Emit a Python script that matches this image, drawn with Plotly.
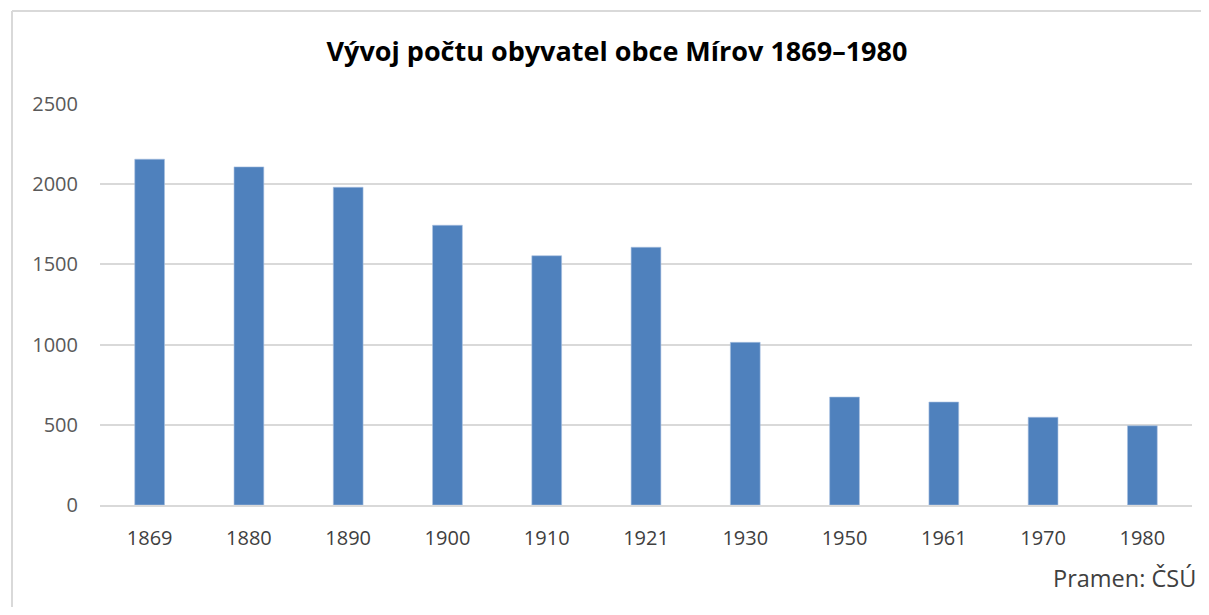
import plotly.graph_objects as go

years = ["1869", "1880", "1890", "1900", "1910", "1921", "1930", "1950", "1961", "1970", "1980"]
population = [2156, 2108, 1981, 1744, 1554, 1607, 1014, 673, 642, 547, 494]
y_ticks = [0, 500, 1000, 1500, 2000, 2500]

title_text = "Vývoj počtu obyvatel obce Mírov 1869–1980"
source_text = "Pramen: ČSÚ"

# The page body has an 8px default margin, so the figure is placed at (8, 8).
OFF = 8
W, H = 1209 - OFF, 615 - 2 * OFF
# plot area in page pixels
L, R, T, B = 100 - OFF, 1192 - OFF, 104 - OFF, 505 - OFF

FONT = "'Open Sans', Lato, sans-serif"

fig = go.Figure(go.Bar(
    x=years, y=population,
    marker=dict(color="#4F81BD", line=dict(color="#A9C1E0", width=0.6)),
    hoverinfo="x+y",
))


def px_x(p):
    return (p - OFF - L) / (R - L)


def px_y(p):
    return (B - (p - OFF)) / (B - T)


fig.update_layout(
    width=W, height=H,
    margin=dict(l=L, r=W - R, t=T, b=H - B, pad=0),
    paper_bgcolor="white", plot_bgcolor="white",
    bargap=0.70,
    showlegend=False,
    font=dict(family=FONT, size=20, color="#595959"),
    title=dict(text="<b>" + title_text + "</b>", x=(617 - OFF) / W, xanchor="center",
               y=1 - (52 - OFF) / H, yanchor="middle", yref="container",
               font=dict(family=FONT, size=27, color="#000000")),
    xaxis=dict(type="category", showgrid=False, showline=True, linecolor="#D9D9D9",
               linewidth=1.5, ticks="", ticklabelstandoff=14,
               tickfont=dict(family=FONT, size=20, color="#404040")),
    yaxis=dict(range=[0, 2500], tickvals=y_ticks, showgrid=True, gridcolor="#D9D9D9",
               gridwidth=1.5, zeroline=False, showline=False, ticks="",
               ticklabelstandoff=21,
               tickfont=dict(family=FONT, size=20, color="#595959")),
    annotations=[dict(text=source_text, xref="paper", yref="paper",
                      x=px_x(1198), y=px_y(578), xanchor="right", yanchor="middle",
                      showarrow=False, font=dict(family=FONT, size=23.5, color="#404040"))],
    shapes=[
        dict(type="line", xref="paper", yref="paper", x0=px_x(12), x1=px_x(1230),
             y0=px_y(11), y1=px_y(11), line=dict(color="#D9D9D9", width=2)),
        dict(type="line", xref="paper", yref="paper", x0=px_x(12), x1=px_x(12),
             y0=px_y(11), y1=px_y(640), line=dict(color="#D9D9D9", width=2)),
    ],
)

fig.write_html("out.html", config={"displayModeBar": False})
